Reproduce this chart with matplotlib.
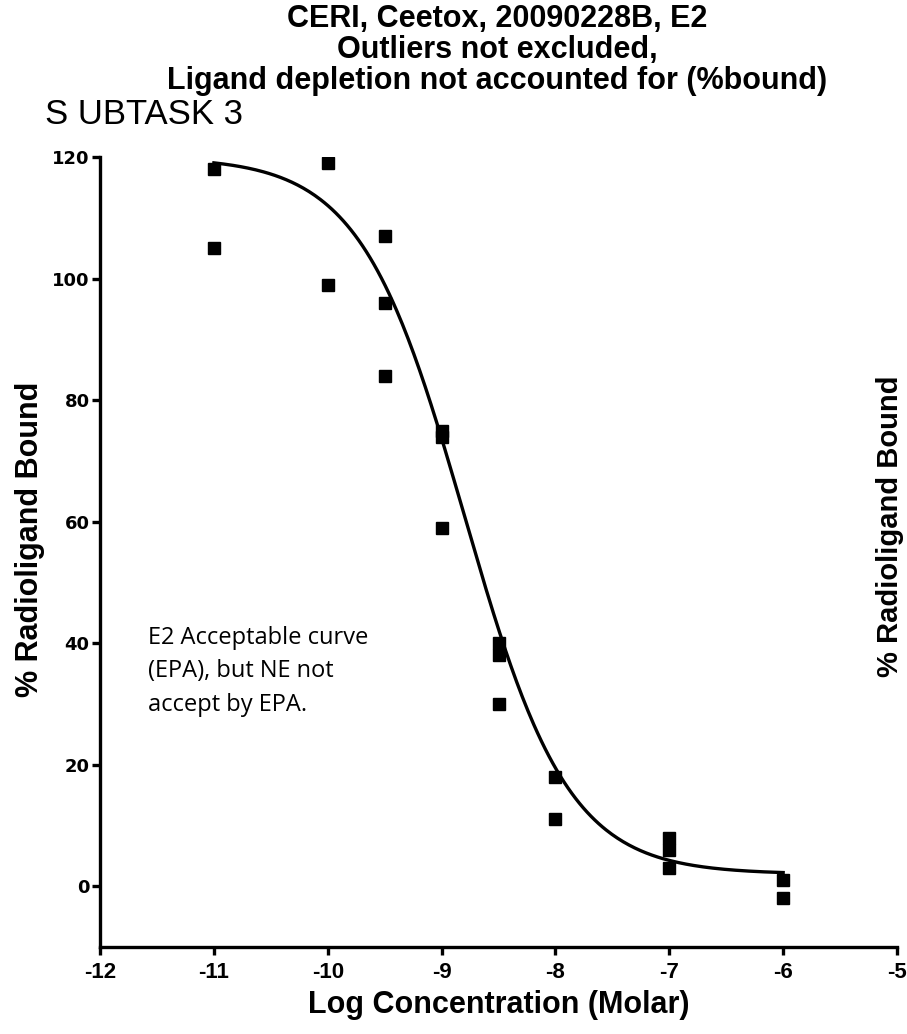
import numpy as np
import matplotlib.pyplot as plt

# Log concentrations (M) and % radioligand bound, replicate wells
log_conc = [-11, -11, -10, -10, -9.5, -9.5, -9.5, -9, -9, -9,
            -8.5, -8.5, -8.5, -8, -8, -7, -7, -7, -6, -6]
pct_bound = [118, 105, 119, 99, 107, 96, 84, 75, 74, 59,
             40, 38, 30, 18, 11, 8, 6, 3, 1, -2]

# Fitted one-site competitive binding curve (variable slope)
fit_top = 120.0
fit_bottom = 2.0
fit_log_ic50 = -8.8
fit_hill = -0.95

x_ticks = [-12, -11, -10, -9, -8, -7, -6, -5]
y_ticks = [0, 20, 40, 60, 80, 100, 120]

fig = plt.figure(figsize=(9.07, 10.34), dpi=100)
ax = fig.add_axes([0.1103, 0.0841, 0.8787, 0.764])

xc = np.linspace(min(log_conc), max(log_conc), 300)
yc = fit_bottom + (fit_top - fit_bottom) / (1 + 10 ** ((fit_log_ic50 - xc) * fit_hill))
ax.plot(xc, yc, color="black", lw=2.4, zorder=2)
ax.plot(log_conc, pct_bound, 's', color="black", ms=8, zorder=3)

ax.set_xlim(-12, -5)
ax.set_ylim(-10, 120)
ax.set_xticks(x_ticks)
ax.set_yticks(y_ticks)
ax.set_xticklabels([str(t) for t in x_ticks], fontsize=16, fontweight="bold",
                   family="Liberation Sans")
ax.set_yticklabels([str(t) for t in y_ticks], fontsize=13, fontweight="bold",
                   family="DejaVu Sans")

for side in ["top", "right"]:
    ax.spines[side].set_visible(False)
for side in ["left", "bottom"]:
    ax.spines[side].set_linewidth(2.4)
ax.tick_params(width=2.4, length=5.5, direction="out")
ax.tick_params(axis="x", pad=5)
ax.tick_params(axis="y", pad=2)

ax.set_xlabel("Log Concentration (Molar)", fontsize=22, fontweight="bold",
              family="Liberation Sans")
ax.xaxis.set_label_coords(0.5, -0.054)

# axis title on both sides
fig.text(0.033, 0.478, "% Radioligand Bound", rotation=90, ha="center", va="center",
         fontsize=22, fontweight="bold", family="Liberation Sans")
fig.text(0.981, 0.491, "% Radioligand Bound", rotation=90, ha="center", va="center",
         fontsize=21, fontweight="bold", family="Liberation Sans")

fig.text(0.548, 0.9516, "CERI, Ceetox, 20090228B, E2\nOutliers not excluded,\n"
         "Ligand depletion not accounted for (%bound)",
         ha="center", va="center", fontsize=22, fontweight="bold",
         family="Liberation Sans", linespacing=1.05)

fig.text(0.05, 0.889, "S UBTASK 3", ha="left", va="center", fontsize=25,
         family="Liberation Sans")

ax.text(-11.58, 42.9, "E2 Acceptable curve\n(EPA), but NE not\naccept by EPA.",
        ha="left", va="top", fontsize=17, family="Open Sans", linespacing=1.55)

fig.savefig("out.png", dpi=100)
